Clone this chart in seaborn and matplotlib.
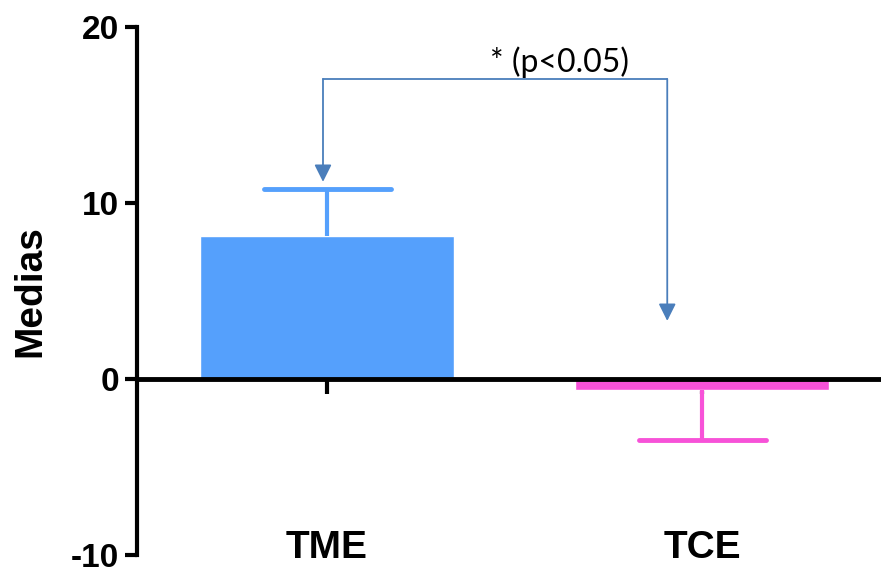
import seaborn as sns
import matplotlib.pyplot as plt

# data
groups = ["TME", "TCE"]
means = [8.1, -0.6]
err_up = [2.7, 0.0]
err_down = [0.0, 2.85]
bar_colors = ["#55A0FC", "#F752D8"]

# significance bracket
bracket_y = 17.05
arrow_x = [-0.011, 0.907]
arrow_tips = [11.2, 3.3]
sig_label = "* (p<0.05)"

yticks = [-10, 0, 10, 20]

sns.set_theme(style="white")
plt.rcParams["font.family"] = ["Liberation Sans", "DejaVu Sans"]
plt.rcParams["text.color"] = "black"
plt.rcParams["axes.labelcolor"] = "black"
plt.rcParams["xtick.color"] = "black"
plt.rcParams["ytick.color"] = "black"

fig = plt.figure(figsize=(8.81, 5.73), dpi=100)
ax = fig.add_axes([0.1555, 0.0315, 0.8445, 0.9214])

sns.barplot(x=groups, y=means, hue=groups, palette=bar_colors,
            width=0.677, legend=False, ax=ax, saturation=1)

# one-sided error bars: stem plus cap (cap half as wide as the bar)
cap_half = 0.677 / 4
for i, (m, c) in enumerate(zip(means, bar_colors)):
    end = m + err_up[i] - err_down[i]
    ax.vlines(i, m, end, color=c, lw=3, zorder=2)
    ax.hlines(end, i - cap_half, i + cap_half, color=c, lw=3.5, zorder=2,
              capstyle="round")

ax.set_ylim(-10, 20)
ax.set_xlim(-0.507, 1.477)

for s in ["top", "right"]:
    ax.spines[s].set_visible(False)
ax.spines["left"].set_linewidth(3)
ax.spines["left"].set_color("black")
ax.spines["bottom"].set_position(("data", 0))
ax.spines["bottom"].set_linewidth(3.5)
ax.spines["bottom"].set_color("black")
ax.spines["bottom"].set_zorder(3)

ax.tick_params(axis="y", direction="out", length=9, width=3, color="black",
               pad=4, left=True)
ax.tick_params(axis="x", direction="out", length=11, width=3, color="black",
               pad=98, bottom=True)

ax.set_yticks(yticks)
ax.set_yticklabels([str(t) for t in yticks], fontsize=24, fontweight="bold")
ax.set_xticks([0, 1])
ax.set_xticklabels(groups, fontsize=28, fontweight="bold")

ax.set_ylabel("Medias", fontsize=28, fontweight="bold", labelpad=16)
ax.set_xlabel("")

# bracket with arrows
arrow_col = "#4A7EBB"
ax.plot(arrow_x, [bracket_y, bracket_y], color=arrow_col, lw=1.3)
for x, tip in zip(arrow_x, arrow_tips):
    ax.annotate("", xy=(x, tip), xytext=(x, bracket_y),
                arrowprops=dict(arrowstyle="-|>", color=arrow_col, lw=1.3,
                                mutation_scale=26, shrinkA=0, shrinkB=0))
ax.text(0.619, 18.0, sig_label, ha="center", va="center", fontsize=23,
        family=["Lato", "DejaVu Sans"])

fig.savefig("out.png", dpi=100)
